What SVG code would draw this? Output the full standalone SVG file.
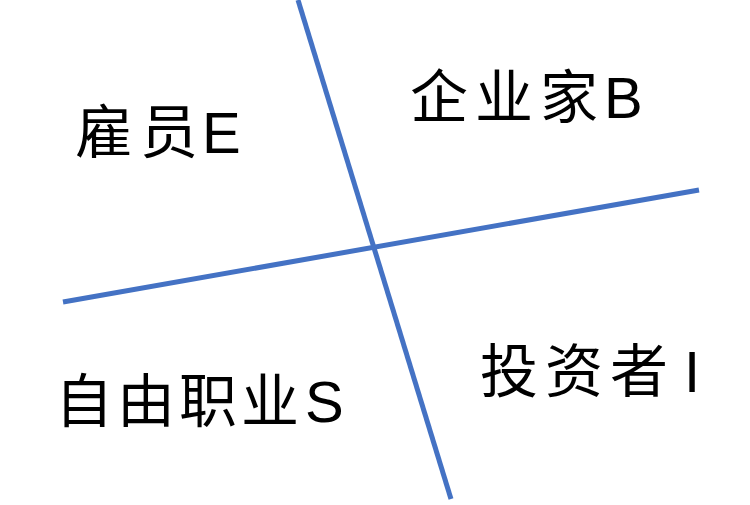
<svg xmlns="http://www.w3.org/2000/svg" width="750" height="505" viewBox="0 0 750 505">
<style>
.ln{stroke:#4472C4;stroke-width:5;fill:none}
.t{font-family:"Liberation Sans","Noto Sans CJK SC",sans-serif;font-size:58px;fill:#000;letter-spacing:7px}
.l{letter-spacing:0}
</style>
<rect width="750" height="505" fill="#fff"/>
<g id="connectors">
<line class="ln" x1="298" y1="0" x2="451" y2="499"/>
<line class="ln" x1="63" y1="302" x2="699" y2="190"/>
</g>
<g id="node-E"><text class="t" x="75" y="153">雇员<tspan class="l" x="202">E</tspan></text></g>
<g id="node-B"><text class="t" x="410" y="118">企业家<tspan class="l" x="604">B</tspan></text></g>
<g id="node-S"><text class="t" x="55" y="422" style="letter-spacing:4px">自由职业<tspan class="l" x="305">S</tspan></text></g>
<g id="node-I"><text class="t" x="480" y="392">投资者<tspan class="l" x="684">I</tspan></text></g>
</svg>
